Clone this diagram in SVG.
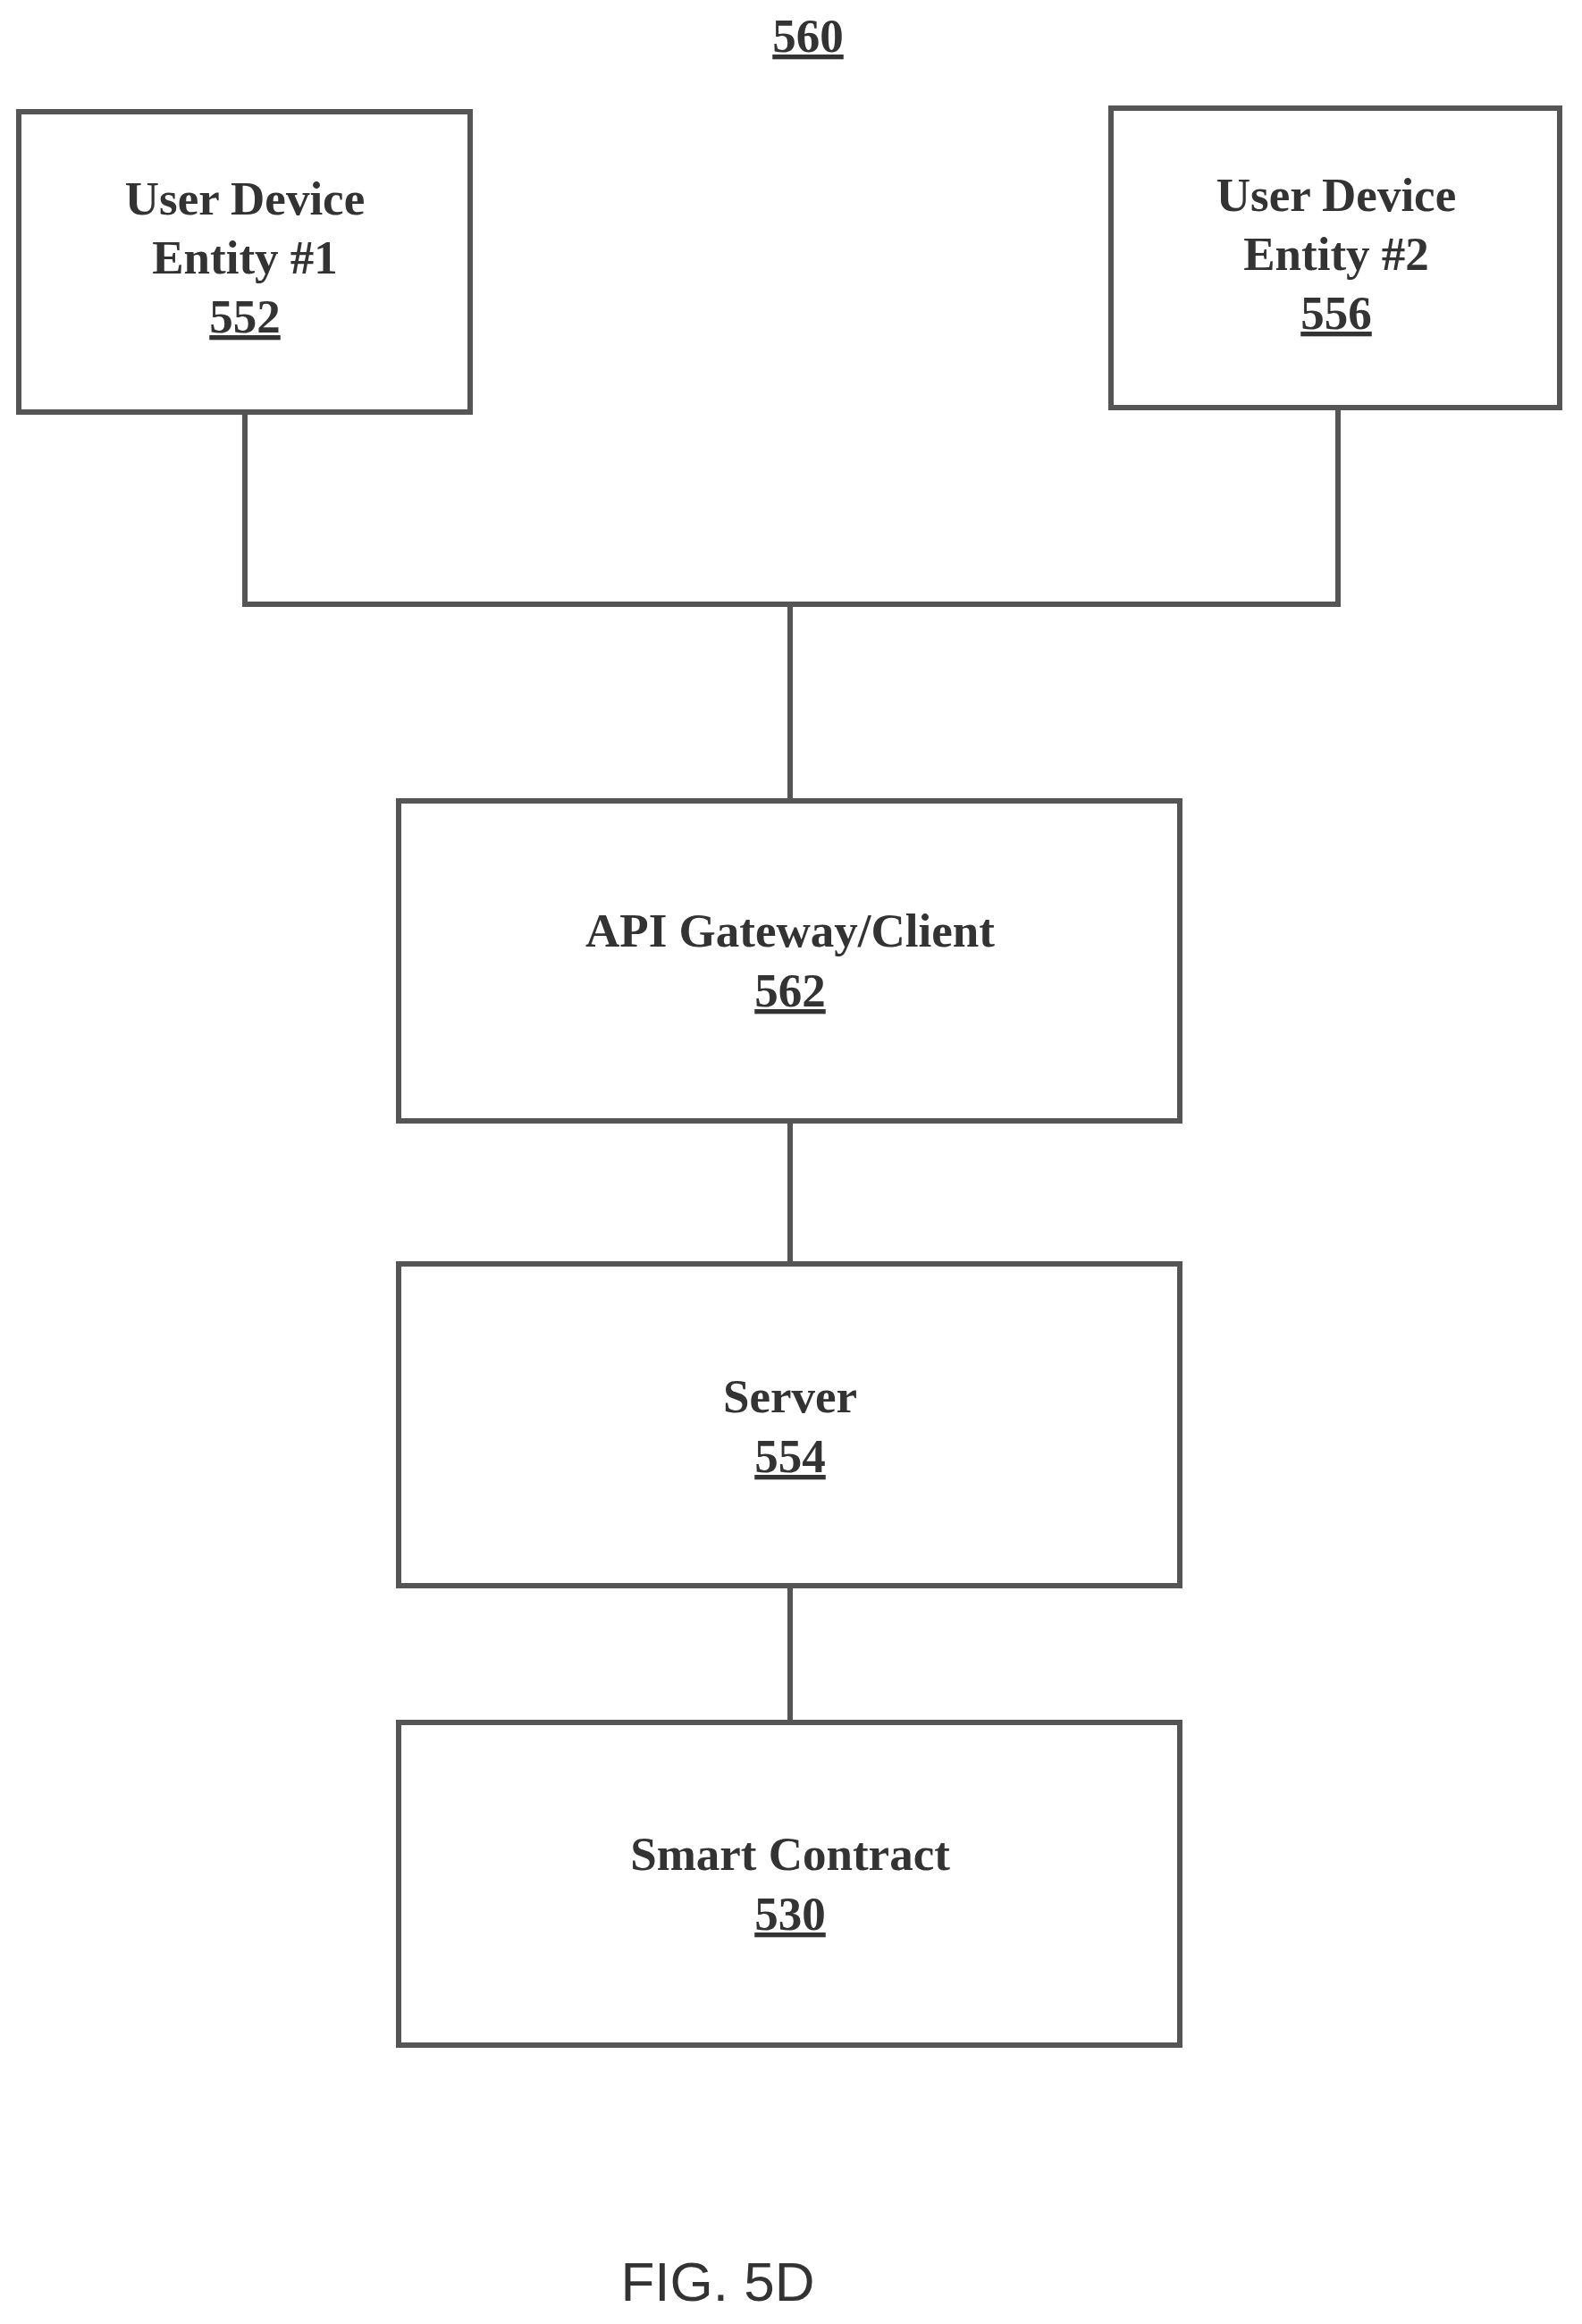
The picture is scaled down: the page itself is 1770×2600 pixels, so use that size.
<svg xmlns="http://www.w3.org/2000/svg" width="1770" height="2600" viewBox="0 0 1770 2600">
<style>
.box{fill:#fff;stroke:#555;stroke-width:6}
.ln{fill:none;stroke:#555;stroke-width:6}
.t{font-family:"Liberation Serif",serif;font-weight:bold;font-size:53px;fill:#333;text-anchor:middle}
.u{text-decoration:underline}
</style>
<rect width="1770" height="2600" fill="#fff"/>
<text class="t u" x="904" y="58">560</text>
<g id="connectors">
<polyline class="ln" points="274,461 274,676 1497,676 1497,456"/>
<line class="ln" x1="884" y1="676" x2="884" y2="896"/>
<line class="ln" x1="884" y1="1254" x2="884" y2="1414"/>
<line class="ln" x1="884" y1="1774" x2="884" y2="1927"/>
</g>
<g id="n552"><rect class="box" x="21" y="125" width="505" height="336"/>
<text class="t" x="274" y="240">User Device</text><text class="t" x="274" y="306">Entity #1</text><text class="t u" x="274" y="372">552</text></g>
<g id="n556"><rect class="box" x="1243" y="121" width="502" height="335"/>
<text class="t" x="1495" y="236">User Device</text><text class="t" x="1495" y="302">Entity #2</text><text class="t u" x="1495" y="368">556</text></g>
<g id="n562"><rect class="box" x="446" y="896" width="874" height="358"/>
<text class="t" x="884" y="1059">API Gateway/Client</text><text class="t u" x="884" y="1126">562</text></g>
<g id="n554"><rect class="box" x="446" y="1414" width="874" height="360"/>
<text class="t" x="884" y="1580">Server</text><text class="t u" x="884" y="1647">554</text></g>
<g id="n530"><rect class="box" x="446" y="1927" width="874" height="361"/>
<text class="t" x="884" y="2092">Smart Contract</text><text class="t u" x="884" y="2159">530</text></g>
<text x="803" y="2574" font-family="Liberation Sans,sans-serif" font-size="62" fill="#333" text-anchor="middle">FIG. 5D</text>
</svg>
